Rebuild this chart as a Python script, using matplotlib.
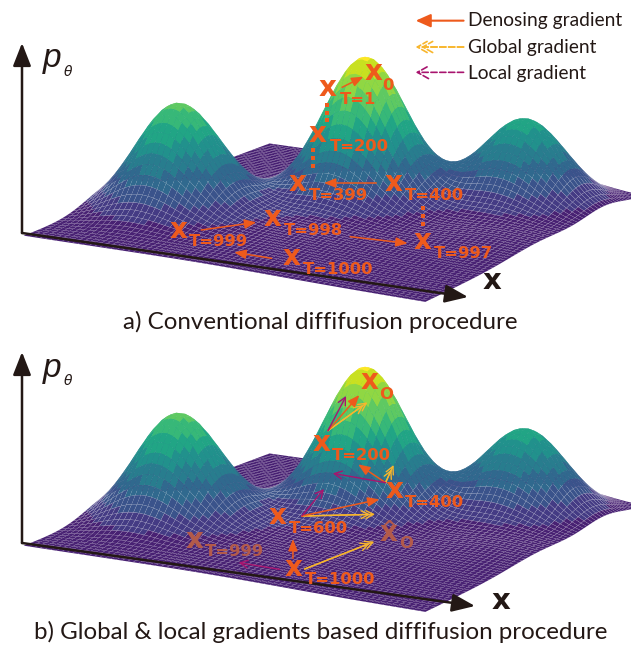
import numpy as np
import matplotlib
matplotlib.use("Agg")
import matplotlib.pyplot as plt

# bumps of the density surface
peak_u = [0.177, 0.487, 0.797, 0.45, 0.90]
peak_v = [0.339, 0.63, 0.80, 0.36, 0.50]
peak_h = [0.74, 1.00, 0.60, 0.07, 0.05]
peak_w = [0.097, 0.095, 0.097, 0.20, 0.13]

legend_names = ["Denosing gradient", "Global gradient", "Local gradient"]
caption_a = "a) Conventional diffifusion procedure"
caption_b = "b) Global & local gradients based diffifusion procedure"

# (x, y of the x mark, subscript, subscript left, subscript y), in zoomed crop coordinates
labels_a = [(927, 222, "0", 950, 255), (815, 270, "T=1", 845, 300),
            (790, 408, "T=200", 820, 440), (740, 555, "T=399", 768, 585),
            (978, 555, "T=400", 1005, 585), (678, 660, "T=998", 705, 692),
            (443, 695, "T=999", 470, 725), (1050, 730, "T=997", 1078, 762),
            (725, 778, "T=1000", 752, 808)]
arrows_a = [(850, 262, 903, 230), (935, 549, 805, 549), (500, 690, 637, 667),
            (870, 710, 1013, 730), (675, 775, 582, 757)]
dots_a = [(813, 315, 360), (778, 450, 497), (1052, 625, 672)]

labels_b = [(917, 130, "O", 942, 163), (798, 315, "T=200", 825, 347),
            (980, 457, "T=400", 1005, 488), (690, 533, "T=600", 718, 565),
            (730, 690, "T=1000", 757, 720)]
faded_b = [(483, 605, "T=999", 510, 635), (965, 585, "O", 993, 612)]
denoise_b = [(815, 272, 893, 165), (958, 428, 890, 373), (750, 528, 943, 478),
             (728, 655, 728, 597)]
local_b = [(815, 272, 860, 168), (958, 428, 827, 400), (750, 528, 805, 447),
           (695, 688, 593, 668)]
global_b = [(815, 272, 913, 187), (958, 428, 978, 375), (750, 528, 932, 523),
            (757, 687, 930, 605)]

ORANGE = "#ee5a1c"
YELLOW = "#f8b62d"
MAGENTA = "#a8146e"
FADED = "#b35a4a"
INK = "#231815"
W, H = 631, 646
SX, SY = 1568 / 631, 3.0

fig = plt.figure(figsize=(W / 100, H / 100), dpi=100)

n = 71
u = np.linspace(0, 1, n)
U, V = np.meshgrid(u, u)
Z = np.zeros_like(U)
for pu, pv, ph, pw in zip(peak_u, peak_v, peak_h, peak_w):
    Z += ph * np.exp(-((U - pu) ** 2 + (V - pv) ** 2) / (2 * pw ** 2))

zc = (Z[:-1, :-1] + Z[1:, :-1] + Z[:-1, 1:] + Z[1:, 1:]) / 4
bands = np.floor(zc * 11) / 11
face = plt.cm.viridis(0.09 + bands * 0.91)
edge = np.array([1, 1, 1, 0.0]) * np.ones(face.shape)
edge[..., 3] = 0.15 * np.clip(zc / 0.08, 0, 1) * np.clip((0.26 - zc) / 0.08, 0, 1)
edge[..., 3] += 0.015


def draw_surface(cx, cy, size):
    ax = fig.add_axes([(cx - size / 2) / W, 1 - (cy + size / 2) / H, size / W, size / H],
                      projection="3d")
    ax.patch.set_alpha(0)
    ax.set_box_aspect((1, 1, 0.325))
    ax.view_init(elev=13.5, azim=-59)
    surf = ax.plot_surface(U, V, Z, rstride=1, cstride=1, facecolors=face,
                           shade=False, linewidth=0.35, antialiased=True)
    surf.set_edgecolor(edge.reshape(-1, 4))
    ax.set_xlim(0, 1)
    ax.set_ylim(0, 1)
    ax.set_zlim(0, 1)
    ax.set_axis_off()


draw_surface(332, 153, 640)
draw_surface(332, 463, 640)

over = fig.add_axes([0, 0, 1, 1], zorder=10)
over.set_xlim(0, W)
over.set_ylim(H, 0)
over.axis("off")
over.patch.set_alpha(0)


def arrow(x0, y0, x1, y1, style, color, lw, dash="-", shrink=0):
    over.annotate("", xy=(x1, y1), xytext=(x0, y0),
                  arrowprops=dict(arrowstyle=style, color=color, lw=lw, linestyle=dash,
                                  shrinkA=0, shrinkB=shrink))


def crop_arrow(a, dy, style, color, lw, dash="-", shrink=0):
    arrow(a[0] / SX, a[1] / SY + dy, a[2] / SX, a[3] / SY + dy, style, color, lw, dash, shrink)


def solid(a, dy):
    crop_arrow(a, dy, "-|>,head_length=0.7,head_width=0.28", ORANGE, 1.1)


def thin(a, dy):
    crop_arrow(a, dy, "->,head_length=0.55,head_width=0.28", MAGENTA, 1.0)


def double(a, dy):
    crop_arrow(a, dy, "->,head_length=0.55,head_width=0.28", YELLOW, 1.0)
    crop_arrow(a, dy, "->,head_length=0.55,head_width=0.28", YELLOW, 1.0, shrink=3.5)


def mark(row, dy, color):
    x, y, sub, sx, sy = row
    over.text(x / SX, y / SY + dy - 2, "x", color=color, fontsize=20, weight="bold",
              family="DejaVu Sans", ha="center", va="center")
    over.text(sx / SX, sy / SY + dy, sub, color=color, fontsize=11.8, weight="bold",
              family="DejaVu Sans", ha="left", va="center")


# axes of the two panels
for ox, oy, tx, ty, top, lx, ly in [(22, 233, 468, 297, 43, 492, 281),
                                    (22, 543, 475, 606, 352, 501, 601)]:
    arrow(ox, oy, ox, top, "-|>,head_length=1.4,head_width=0.55", INK, 1.8)
    arrow(ox, oy, tx, ty, "-|>,head_length=1.4,head_width=0.55", INK, 1.8)
    over.text(lx, ly, "x", color=INK, fontsize=21, weight="bold",
              family="DejaVu Sans", ha="center", va="center")
    over.text(52, top + 16, "p", color=INK, fontsize=24, style="italic",
              family="Liberation Sans", ha="center", va="center")
    over.text(68, top + 29, "\u03b8", color=INK, fontsize=10, style="italic",
              family="DejaVu Sans", ha="center", va="center")

for row in labels_a:
    mark(row, 0, ORANGE)
for a in arrows_a:
    solid(a, 0)
for x, y0, y1 in dots_a:
    for y in np.linspace(y0, y1, 3):
        over.plot(x / SX, y / SY, "s", color=ORANGE, ms=2.2, mew=0)

for row in labels_b:
    mark(row, 340, ORANGE)
for row in faded_b:
    mark(row, 340, FADED)
over.text(965 / SX, 553 / SY + 344, "^", color=FADED, fontsize=13, weight="bold",
          family="DejaVu Sans", ha="center", va="center")
for a in global_b:
    double(a, 340)
for a in denoise_b:
    solid(a, 340)
for a in local_b:
    thin(a, 340)

# legend
crop_arrow((1152, 62, 1033, 62), 0, "-|>,head_length=0.9,head_width=0.4", ORANGE, 1.5)
crop_arrow((1152, 141, 1033, 141), 0, "->,head_length=0.7,head_width=0.4", YELLOW, 1.2, "--")
crop_arrow((1152, 141, 1033, 141), 0, "->,head_length=0.7,head_width=0.4", YELLOW, 1.2, "--", 4)
crop_arrow((1152, 217, 1033, 217), 0, "->,head_length=0.8,head_width=0.45", MAGENTA, 1.2, "--")
for name, y in zip(legend_names, [62, 141, 219]):
    over.text(1164 / SX, y / SY, name, color=INK, fontsize=13.8, family="Lato",
              ha="left", va="center")

over.text(320, 322, caption_a, color=INK, fontsize=17.4, family="Lato", ha="center", va="center")
over.text(321, 632, caption_b, color=INK, fontsize=17.4, family="Lato", ha="center", va="center")

fig.savefig("out.png", dpi=100)
